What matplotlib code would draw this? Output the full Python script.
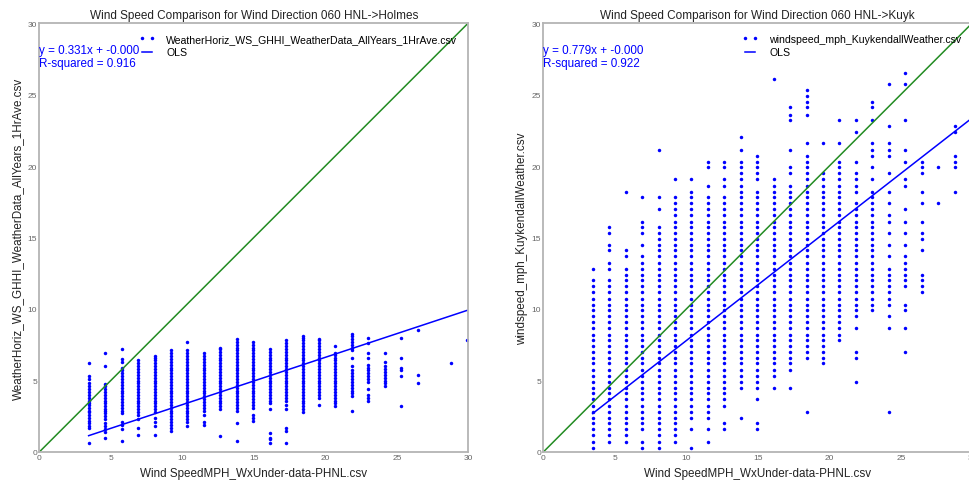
import matplotlib
matplotlib.use("Agg")
import matplotlib.pyplot as plt

plt.rcParams['font.family'] = ['Liberation Sans', 'DejaVu Sans']

# ---------------- data ----------------
x_columns_mph = [3.45, 4.60, 5.75, 6.90, 8.06, 9.21, 10.36, 11.51, 12.66, 13.81, 14.96, 16.11,
                 17.26, 18.41, 19.56, 20.71, 21.86, 23.02, 24.17, 25.32, 26.47, 27.62, 28.77, 29.92]

holmes_y_by_column = [
    [0.6, 1.7, 1.8, 2.0, 2.2, 2.4, 2.6, 2.8, 2.9, 3.1, 3.3, 3.4, 3.6, 3.8, 4.0, 4.2, 4.4, 4.6, 4.8, 5.1, 5.3, 6.2],
    [1.0, 1.4, 1.6, 1.8, 2.0, 2.3, 2.5, 2.7, 2.9, 3.0, 3.2, 3.4, 3.6, 3.8, 4.0, 4.2, 4.4, 4.6, 4.75, 6.0, 6.9],
    [0.8, 1.6, 1.9, 2.1, 2.7, 2.9, 3.1, 3.3, 3.5, 3.7, 3.9, 4.1, 4.3, 4.5, 4.7, 4.9, 5.1, 5.3, 5.5, 5.7, 5.9, 6.3, 6.5, 7.2],
    [1.2, 1.7, 2.3, 2.6, 2.8, 3.0, 3.2, 3.4, 3.6, 3.8, 4.0, 4.2, 4.4, 4.6, 4.8, 5.0, 5.2, 5.4, 5.6, 5.8, 6.0, 6.2, 6.4],
    [1.2, 1.8, 2.1, 2.4, 2.8, 3.0, 3.2, 3.4, 3.6, 3.8, 4.0, 4.2, 4.4, 4.6, 4.8, 5.0, 5.2, 5.4, 5.6, 5.8, 6.0, 6.2, 6.4, 6.6, 6.7],
    [1.5, 1.7, 1.9, 2.1, 2.3, 2.5, 2.7, 2.9, 3.1, 3.3, 3.5, 3.7, 3.9, 4.1, 4.3, 4.5, 4.7, 4.9, 5.1, 5.3, 5.5, 5.7, 5.9, 6.1, 6.3, 6.5, 6.7, 6.9, 7.1],
    [1.8, 2.1, 2.3, 2.5, 2.7, 2.9, 3.1, 3.3, 3.5, 3.7, 3.9, 4.1, 4.3, 4.5, 4.7, 4.9, 5.1, 5.3, 5.5, 5.7, 5.9, 6.1, 6.3, 6.5, 6.7, 6.9, 7.1, 7.7],
    [1.9, 2.1, 2.6, 2.9, 3.1, 3.3, 3.5, 3.7, 3.9, 4.1, 4.3, 4.5, 4.7, 4.9, 5.1, 5.3, 5.5, 5.7, 5.9, 6.1, 6.3, 6.5, 6.7, 6.9],
    [1.1, 3.0, 3.2, 3.4, 3.6, 3.8, 4.0, 4.2, 4.4, 4.6, 4.8, 5.0, 5.2, 5.4, 5.6, 5.8, 6.0, 6.2, 6.4, 6.6, 6.8, 7.0, 7.2, 7.3],
    [0.8, 2.0, 2.9, 3.1, 3.3, 3.5, 3.7, 3.9, 4.1, 4.3, 4.5, 4.7, 4.9, 5.1, 5.3, 5.5, 5.7, 5.9, 6.1, 6.3, 6.5, 6.7, 6.9, 7.1, 7.3, 7.5, 7.7, 7.9],
    [2.2, 2.4, 2.6, 3.1, 3.3, 3.5, 3.7, 3.9, 4.1, 4.3, 4.5, 4.7, 4.9, 5.1, 5.3, 5.5, 5.7, 5.9, 6.1, 6.3, 6.5, 6.7, 6.9, 7.1, 7.3, 7.5, 7.7],
    [0.6, 0.9, 1.0, 1.3, 3.0, 3.4, 3.6, 3.8, 4.0, 4.2, 4.4, 4.6, 4.8, 5.0, 5.2, 5.4, 5.6, 5.8, 6.0, 6.2, 6.4, 6.6, 6.8, 7.0, 7.2],
    [0.6, 1.5, 1.7, 3.0, 3.3, 3.6, 3.8, 4.0, 4.2, 4.4, 4.6, 4.8, 5.0, 5.2, 5.4, 5.6, 5.8, 6.0, 6.2, 6.4, 6.6, 6.8, 7.0, 7.2, 7.4, 7.6, 7.8],
    [2.8, 3.0, 3.2, 3.4, 3.6, 3.8, 4.0, 4.2, 4.4, 4.6, 4.8, 5.0, 5.2, 5.4, 5.6, 5.8, 6.0, 6.2, 6.4, 6.6, 6.8, 7.0, 7.2, 7.4, 7.6, 7.8, 8.0, 8.1],
    [3.3, 3.8, 4.0, 4.2, 4.4, 4.6, 4.8, 5.0, 5.2, 5.4, 5.6, 5.8, 6.0, 6.2, 6.4, 6.6, 6.8, 7.0, 7.2, 7.4, 7.6, 7.8, 7.9],
    [3.2, 3.4, 3.6, 3.8, 4.0, 4.2, 4.4, 4.6, 4.8, 5.0, 5.2, 5.4, 5.6, 5.8, 6.0, 6.2, 6.4, 6.6, 6.8, 6.9, 7.4],
    [2.9, 3.9, 4.1, 4.3, 4.5, 4.7, 4.9, 5.1, 5.3, 5.5, 5.7, 6.0, 6.6, 7.1, 7.3, 7.5, 7.7, 7.9, 8.1, 8.25],
    [3.6, 3.8, 4.0, 4.4, 4.9, 5.1, 5.3, 5.5, 5.7, 5.9, 6.1, 6.6, 6.9, 7.6, 7.95],
    [4.6, 4.8, 5.0, 5.2, 5.4, 5.6, 5.8, 6.0, 6.3, 6.9],
    [3.2, 5.3, 5.7, 5.9, 6.6, 8.0],
    [4.8, 5.4, 8.55],
    [],
    [6.2],
    [7.85],
]

kuyk_y_by_column = [
    [0.3, 0.7, 1.2, 1.6, 2.0, 2.4, 2.8, 3.2, 3.7, 4.1, 4.5, 4.9, 5.3, 5.7, 6.2, 6.6, 7.0, 7.4, 7.8, 8.2, 8.7, 9.1, 9.5, 9.9, 10.3, 10.7, 11.2, 11.6, 12.0, 12.8],
    [0.7, 1.2, 1.6, 2.0, 2.4, 2.8, 3.2, 3.7, 4.1, 4.5, 4.9, 5.3, 5.7, 6.2, 6.6, 7.0, 7.4, 7.8, 8.2, 8.7, 9.1, 9.5, 9.9, 10.3, 10.7, 11.2, 11.6, 12.0, 12.8, 13.2, 14.1, 14.5, 15.3, 15.7],
    [0.7, 1.2, 1.6, 2.0, 2.4, 2.8, 3.2, 3.7, 4.1, 4.5, 4.9, 5.3, 5.7, 6.2, 6.6, 7.0, 7.4, 7.8, 8.2, 8.7, 9.1, 9.5, 9.9, 10.3, 10.7, 11.2, 11.6, 12.0, 12.4, 12.8, 13.7, 14.1, 18.2],
    [0.3, 0.7, 1.6, 2.0, 2.4, 2.8, 3.2, 3.7, 4.1, 4.5, 4.9, 5.3, 5.7, 6.2, 6.6, 7.0, 7.4, 7.8, 8.2, 8.7, 9.1, 9.5, 9.9, 10.3, 10.7, 11.2, 11.6, 12.0, 12.4, 12.8, 13.2, 13.7, 14.5, 15.3, 15.7, 16.1, 17.8],
    [0.3, 0.7, 1.2, 1.6, 2.0, 2.4, 2.8, 3.2, 3.7, 4.1, 4.5, 4.9, 5.3, 5.7, 6.2, 6.6, 7.0, 7.4, 7.8, 8.2, 8.7, 9.1, 9.5, 9.9, 10.3, 10.7, 11.2, 11.6, 12.0, 12.4, 12.8, 13.2, 13.7, 14.1, 14.5, 14.9, 15.3, 15.7, 17.0, 17.8, 21.1],
    [0.7, 1.2, 1.6, 2.0, 2.4, 2.8, 3.2, 3.7, 4.1, 4.5, 4.9, 5.3, 5.7, 6.2, 6.6, 7.0, 7.4, 7.8, 8.2, 8.7, 9.1, 9.5, 9.9, 10.3, 10.7, 11.2, 11.6, 12.0, 12.4, 12.8, 13.2, 13.7, 14.1, 14.5, 14.9, 15.3, 15.7, 16.1, 16.6, 17.0, 17.4, 17.8, 19.1],
    [0.3, 1.6, 2.4, 2.8, 3.2, 3.7, 4.1, 4.5, 4.9, 5.3, 5.7, 6.2, 6.6, 7.0, 7.4, 7.8, 8.2, 8.7, 9.1, 9.5, 9.9, 10.3, 10.7, 11.2, 11.6, 12.0, 12.4, 12.8, 13.2, 13.7, 14.1, 14.5, 14.9, 15.3, 15.7, 16.1, 16.6, 17.0, 17.4, 17.8, 18.2, 19.1],
    [0.7, 1.6, 2.4, 2.8, 3.2, 3.7, 4.1, 4.5, 4.9, 5.3, 5.7, 6.2, 6.6, 7.0, 7.4, 7.8, 8.2, 8.7, 9.1, 9.5, 9.9, 10.3, 10.7, 11.2, 11.6, 12.0, 12.4, 12.8, 13.2, 13.7, 14.1, 14.5, 14.9, 15.3, 15.7, 16.1, 16.6, 17.0, 17.4, 17.8, 18.6, 19.9, 20.3],
    [1.6, 2.0, 3.2, 3.7, 4.1, 4.5, 4.9, 5.3, 5.7, 6.2, 6.6, 7.0, 7.4, 7.8, 8.2, 8.7, 9.1, 9.5, 9.9, 10.3, 10.7, 11.2, 11.6, 12.0, 12.4, 12.8, 13.2, 13.7, 14.1, 14.5, 14.9, 15.3, 15.7, 16.1, 16.6, 17.0, 17.4, 17.8, 18.6, 19.1, 19.9, 20.3],
    [2.4, 4.5, 4.9, 5.3, 5.7, 6.2, 6.6, 7.0, 7.4, 7.8, 8.2, 8.7, 9.1, 9.5, 9.9, 10.3, 10.7, 11.2, 11.6, 12.0, 12.4, 12.8, 13.2, 13.7, 14.1, 14.5, 14.9, 15.3, 15.7, 16.1, 16.6, 17.0, 17.4, 17.8, 18.2, 18.6, 19.1, 19.5, 19.9, 20.3, 21.1, 22.0],
    [1.6, 2.0, 3.7, 4.5, 4.9, 5.3, 5.7, 6.2, 6.6, 7.0, 7.4, 7.8, 8.2, 8.7, 9.1, 9.5, 9.9, 10.3, 10.7, 11.2, 11.6, 12.0, 12.4, 12.8, 13.2, 13.7, 14.1, 14.5, 14.9, 15.3, 15.7, 16.1, 16.6, 17.0, 17.4, 17.8, 18.2, 19.1, 19.5, 19.9, 20.3, 20.7],
    [4.5, 5.3, 5.7, 6.2, 6.6, 7.0, 7.4, 7.8, 8.2, 8.7, 9.1, 9.5, 9.9, 10.3, 10.7, 11.2, 11.6, 12.0, 12.4, 12.8, 13.2, 13.7, 14.1, 14.5, 14.9, 15.3, 15.7, 16.1, 16.6, 17.0, 17.4, 17.8, 18.2, 18.6, 19.1, 26.1],
    [4.5, 5.7, 6.2, 6.6, 7.0, 7.4, 7.8, 8.2, 8.7, 9.1, 9.5, 9.9, 10.3, 10.7, 11.2, 11.6, 12.0, 12.4, 12.8, 13.2, 13.7, 14.1, 14.5, 14.9, 15.3, 15.7, 16.1, 16.6, 17.0, 17.4, 17.8, 18.2, 18.6, 19.5, 19.9, 21.1, 23.2, 23.6, 24.1],
    [2.8, 6.6, 7.0, 7.4, 7.8, 8.2, 8.7, 9.1, 9.5, 9.9, 10.3, 10.7, 11.2, 11.6, 12.0, 12.4, 12.8, 13.2, 13.7, 14.1, 14.5, 14.9, 15.3, 15.7, 16.1, 16.6, 17.0, 17.4, 17.8, 18.2, 18.6, 19.1, 19.5, 19.9, 20.3, 20.7, 21.6, 23.6, 24.1, 24.5, 24.9, 25.3],
    [6.2, 6.6, 7.0, 7.4, 7.8, 8.2, 8.7, 9.1, 9.5, 9.9, 10.3, 10.7, 11.2, 11.6, 12.0, 12.4, 12.8, 13.2, 13.7, 14.1, 14.5, 14.9, 15.3, 15.7, 16.1, 16.6, 17.0, 17.4, 17.8, 18.2, 18.6, 19.1, 19.5, 21.6],
    [7.8, 8.2, 8.7, 9.1, 9.5, 9.9, 10.3, 10.7, 11.2, 11.6, 12.0, 12.4, 12.8, 13.2, 13.7, 14.1, 14.5, 14.9, 15.3, 15.7, 16.1, 16.6, 17.0, 17.4, 17.8, 18.2, 18.6, 19.1, 19.5, 19.9, 20.3, 21.6, 23.2],
    [4.9, 6.6, 7.0, 8.7, 9.5, 9.9, 10.3, 10.7, 11.2, 11.6, 12.0, 12.4, 12.8, 13.2, 13.7, 14.1, 14.5, 14.9, 15.3, 15.7, 16.1, 16.6, 17.0, 17.4, 18.2, 18.6, 19.1, 19.5, 20.3, 22.4, 23.2],
    [9.9, 10.3, 10.7, 11.2, 11.6, 12.0, 12.4, 12.8, 13.2, 13.7, 14.1, 14.5, 14.9, 15.3, 15.7, 16.1, 16.6, 17.0, 17.4, 17.8, 18.2, 19.1, 19.9, 20.7, 21.1, 21.6, 23.2, 24.1, 24.5],
    [2.8, 8.7, 9.5, 10.3, 10.7, 11.2, 11.6, 12.0, 12.4, 12.8, 13.7, 14.5, 15.3, 16.1, 16.6, 17.4, 18.2, 19.5, 20.7, 21.1, 21.6, 22.8, 25.7],
    [7.0, 8.7, 9.9, 10.3, 11.6, 12.0, 12.4, 12.8, 13.2, 13.7, 14.5, 15.3, 16.1, 17.0, 18.6, 19.1, 20.3, 21.1, 23.2, 25.7, 26.5],
    [11.2, 11.6, 12.0, 12.4, 14.1, 14.9, 15.3, 16.1, 17.4, 18.2, 19.5, 19.9, 20.3],
    [17.4, 19.9],
    [18.2, 19.9, 20.3, 20.7, 22.4, 22.8],
    [],
]

panels = [
    dict(title="Wind Speed Comparison for Wind Direction 060 HNL->Holmes",
         ylabel="WeatherHoriz_WS_GHHI_WeatherData_AllYears_1HrAve.csv",
         series="WeatherHoriz_WS_GHHI_WeatherData_AllYears_1HrAve.csv",
         ys=holmes_y_by_column, slope=0.331, intercept=-0.0, r2=0.916),
    dict(title="Wind Speed Comparison for Wind Direction 060 HNL->Kuyk",
         ylabel="windspeed_mph_KuykendallWeather.csv",
         series="windspeed_mph_KuykendallWeather.csv",
         ys=kuyk_y_by_column, slope=0.779, intercept=-0.0, r2=0.922),
]
xlabel = "Wind SpeedMPH_WxUnder-data-PHNL.csv"
axis_ticks = [0, 5, 10, 15, 20, 25, 30]

# ---------------- figure ----------------
W, H = 970, 481
fig = plt.figure(figsize=(W / 100, H / 100), dpi=100)
lefts = [39.3, 543.3]
for left_px, p in zip(lefts, panels):
    ax = fig.add_axes([left_px / W, 28 / H, 429 / W, 429 / H])
    xs, ys = [], []
    for xv, col in zip(x_columns_mph, p["ys"]):
        xs.extend([xv] * len(col))
        ys.extend(col)
    ax.plot(xs, ys, linestyle='none', marker='o', ms=2.5, mew=0, color='#0000ff',
            label=p["series"])
    x0, x1 = min(x_columns_mph), max(x_columns_mph)
    ax.plot([x0, x1], [p["slope"] * x0 + p["intercept"], p["slope"] * x1 + p["intercept"]],
            color='#0000ff', lw=1.1, label="OLS")
    ax.plot([0, 30], [0, 30], color='#228b22', lw=1.1)
    ax.set_xlim(0, 30)
    ax.set_ylim(0, 30)
    ax.set_xticks(axis_ticks)
    ax.set_yticks(axis_ticks)
    ax.tick_params(length=0, labelsize=6, labelcolor='#666666', pad=1.5)
    for s in ax.spines.values():
        s.set_color('#b4b4b4')
        s.set_linewidth(1.3)
    ax.set_title(p["title"], fontsize=8.45, pad=3.5, color='#222222')
    ax.set_xlabel(xlabel, fontsize=8.4, labelpad=4, color='#222222')
    ax.set_ylabel(p["ylabel"], fontsize=8.4, labelpad=3, color='#222222')
    ax.text(0.0, 0.95, f"y = {p['slope']:.3f}x + {p['intercept']:.3f}\nR-squared = {p['r2']:.3f}",
            transform=ax.transAxes, ha='left', va='top', color='#0000ff', fontsize=8.4,
            linespacing=1.05)
    ax.legend(loc='upper right', frameon=False, fontsize=7.6, numpoints=2,
              handlelength=1.5, handletextpad=1.05, labelspacing=0.3,
              borderaxespad=0.65, borderpad=0.4)

fig.savefig("out.png", dpi=100)
